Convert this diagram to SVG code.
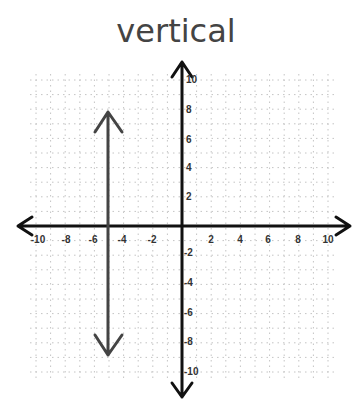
<svg xmlns="http://www.w3.org/2000/svg" width="360" height="400" viewBox="0 0 360 400">
<style>
.grid{stroke:#c4c4c4;stroke-width:1;stroke-dasharray:1.5 4;fill:none}
.axis{stroke:#111;stroke-width:3;fill:none;stroke-linecap:round;stroke-linejoin:round}
.line{stroke:#444;stroke-width:3;fill:none;stroke-linecap:round;stroke-linejoin:round}
.lbl{font-family:"Liberation Sans",Arial,sans-serif;font-size:10px;font-weight:bold;fill:#333}
.title{font-family:"DejaVu Sans",sans-serif;font-size:32px;fill:#444}
</style>
<rect width="360" height="400" fill="#fff"/>
<g id="title"><text class="title" x="176" y="42" text-anchor="middle">vertical</text></g>
<g id="grid">
<path class="grid" d="M36 74V380M50.6 74V380M65.2 74V380M79.8 74V380M94.4 74V380M109 74V380M123.6 74V380M138.2 74V380M152.8 74V380M167.4 74V380M196.6 74V380M211.2 74V380M225.8 74V380M240.4 74V380M255 74V380M269.6 74V380M284.2 74V380M298.8 74V380M313.4 74V380M328 74V380"/>
<path class="grid" d="M30 80H336M30 94.6H336M30 109.2H336M30 123.8H336M30 138.4H336M30 153H336M30 167.6H336M30 182.2H336M30 196.8H336M30 211.4H336M30 240.6H336M30 255.2H336M30 269.8H336M30 284.4H336M30 299H336M30 313.6H336M30 328.2H336M30 342.8H336M30 357.4H336M30 372H336"/>
</g>
<g id="x-axis">
<path class="axis" d="M18 226H350M32 217L18 226L32 235M336 217L350 226L336 235"/>
</g>
<g id="y-axis">
<path class="axis" d="M182 62V397M172 77L182 62L192 77M172 383L182 397L192 383"/>
</g>
<g id="labels">
<text class="lbl" x="38" y="243" text-anchor="middle">-10</text>
<text class="lbl" x="66" y="243" text-anchor="middle">-8</text>
<text class="lbl" x="93" y="243" text-anchor="middle">-6</text>
<text class="lbl" x="122" y="243" text-anchor="middle">-4</text>
<text class="lbl" x="152" y="243" text-anchor="middle">-2</text>
<text class="lbl" x="211" y="243" text-anchor="middle">2</text>
<text class="lbl" x="240" y="243" text-anchor="middle">4</text>
<text class="lbl" x="268" y="243" text-anchor="middle">6</text>
<text class="lbl" x="298" y="243" text-anchor="middle">8</text>
<text class="lbl" x="328" y="243" text-anchor="middle">10</text>
<text class="lbl" x="186" y="83">10</text>
<text class="lbl" x="186" y="113">8</text>
<text class="lbl" x="186" y="143">6</text>
<text class="lbl" x="186" y="171">4</text>
<text class="lbl" x="186" y="200">2</text>
<text class="lbl" x="184" y="256">-2</text>
<text class="lbl" x="184" y="286">-4</text>
<text class="lbl" x="184" y="316">-6</text>
<text class="lbl" x="184" y="345">-8</text>
<text class="lbl" x="184" y="375">-10</text>
</g>
<g id="vertical-line">
<path class="line" d="M108 112V355M95 132L108 112L122 132M95 335L108 355L122 335"/>
</g>
</svg>
